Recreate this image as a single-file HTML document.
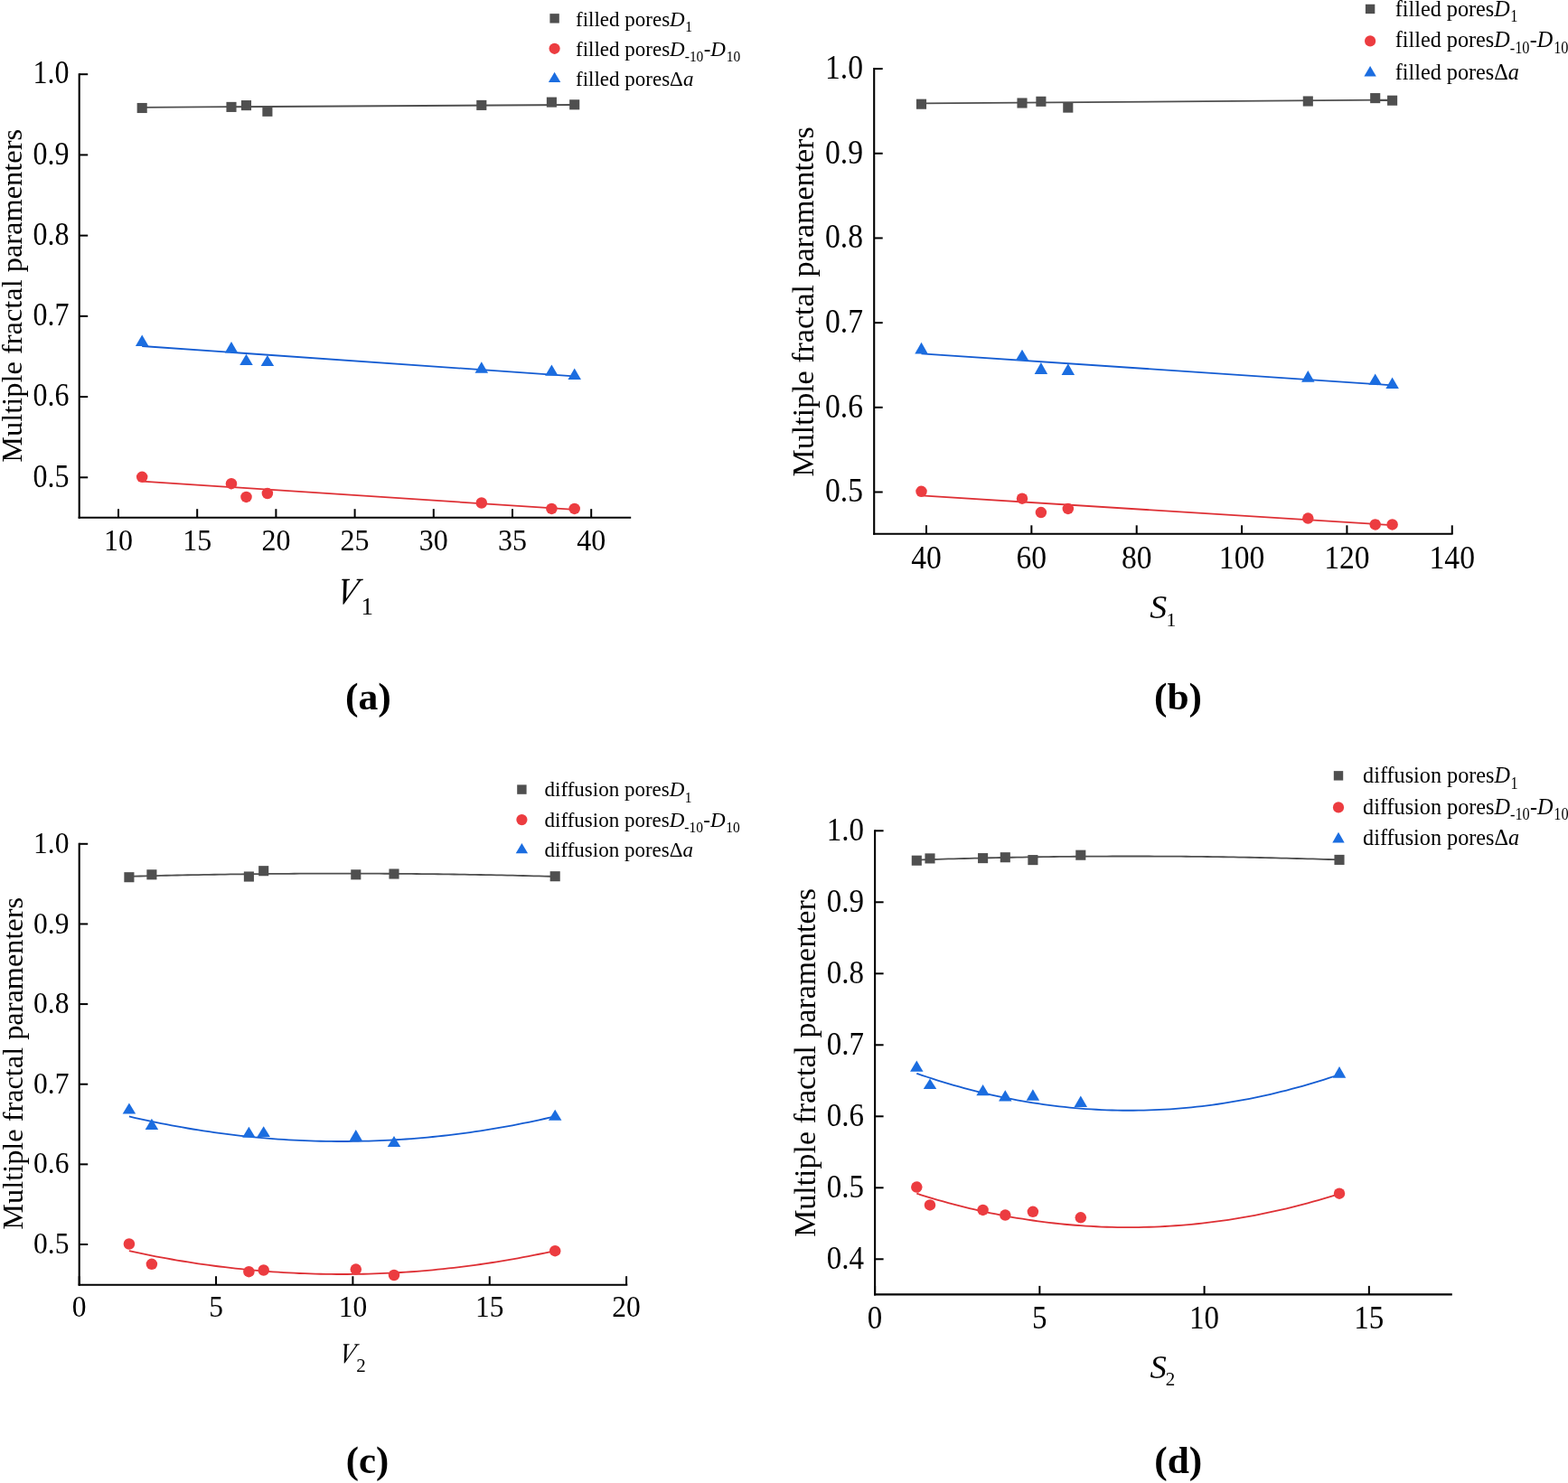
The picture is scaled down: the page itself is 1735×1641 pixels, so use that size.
<!DOCTYPE html>
<html><head><meta charset="utf-8"><title>Multiple fractal parameters</title>
<style>html,body{margin:0;padding:0;background:#fff;} svg{display:block;} text{fill:#000;}</style>
</head><body>
<svg width="1735" height="1641" viewBox="0 0 1735 1641" font-family="&apos;Liberation Serif&apos;, serif">
<rect width="1735" height="1641" fill="#fff"/>
<line x1="87.70" y1="81.20" x2="87.70" y2="573.70" stroke="#000" stroke-width="2.1"/>
<line x1="86.70" y1="572.70" x2="698.20" y2="572.70" stroke="#000" stroke-width="2.1"/>
<line x1="87.70" y1="82.20" x2="97.20" y2="82.20" stroke="#000" stroke-width="2"/>
<text transform="translate(76.50,92.40) scale(1.0,1.1)" font-size="32" text-anchor="end">1.0</text>
<line x1="87.70" y1="171.42" x2="97.20" y2="171.42" stroke="#000" stroke-width="2"/>
<text transform="translate(76.50,181.62) scale(1.0,1.1)" font-size="32" text-anchor="end">0.9</text>
<line x1="87.70" y1="260.64" x2="97.20" y2="260.64" stroke="#000" stroke-width="2"/>
<text transform="translate(76.50,270.84) scale(1.0,1.1)" font-size="32" text-anchor="end">0.8</text>
<line x1="87.70" y1="349.86" x2="97.20" y2="349.86" stroke="#000" stroke-width="2"/>
<text transform="translate(76.50,360.06) scale(1.0,1.1)" font-size="32" text-anchor="end">0.7</text>
<line x1="87.70" y1="439.08" x2="97.20" y2="439.08" stroke="#000" stroke-width="2"/>
<text transform="translate(76.50,449.28) scale(1.0,1.1)" font-size="32" text-anchor="end">0.6</text>
<line x1="87.70" y1="528.30" x2="97.20" y2="528.30" stroke="#000" stroke-width="2"/>
<text transform="translate(76.50,538.50) scale(1.0,1.1)" font-size="32" text-anchor="end">0.5</text>
<line x1="131.00" y1="572.70" x2="131.00" y2="563.20" stroke="#000" stroke-width="2"/>
<text transform="translate(131.00,608.70) scale(1.0,1.08)" font-size="32" text-anchor="middle">10</text>
<line x1="218.20" y1="572.70" x2="218.20" y2="563.20" stroke="#000" stroke-width="2"/>
<text transform="translate(218.20,608.70) scale(1.0,1.08)" font-size="32" text-anchor="middle">15</text>
<line x1="305.40" y1="572.70" x2="305.40" y2="563.20" stroke="#000" stroke-width="2"/>
<text transform="translate(305.40,608.70) scale(1.0,1.08)" font-size="32" text-anchor="middle">20</text>
<line x1="392.60" y1="572.70" x2="392.60" y2="563.20" stroke="#000" stroke-width="2"/>
<text transform="translate(392.60,608.70) scale(1.0,1.08)" font-size="32" text-anchor="middle">25</text>
<line x1="479.80" y1="572.70" x2="479.80" y2="563.20" stroke="#000" stroke-width="2"/>
<text transform="translate(479.80,608.70) scale(1.0,1.08)" font-size="32" text-anchor="middle">30</text>
<line x1="567.00" y1="572.70" x2="567.00" y2="563.20" stroke="#000" stroke-width="2"/>
<text transform="translate(567.00,608.70) scale(1.0,1.08)" font-size="32" text-anchor="middle">35</text>
<line x1="654.20" y1="572.70" x2="654.20" y2="563.20" stroke="#000" stroke-width="2"/>
<text transform="translate(654.20,608.70) scale(1.0,1.08)" font-size="32" text-anchor="middle">40</text>
<text transform="translate(23.50,511.70) rotate(-90)" font-size="32.4">Multiple fractal paramenters</text>
<polyline points="157.20,118.80 635.70,116.00" fill="none" stroke="#4f4f4f" stroke-width="1.8" stroke-linejoin="round"/>
<polyline points="157.20,383.00 635.70,416.30" fill="none" stroke="#145cd2" stroke-width="1.8" stroke-linejoin="round"/>
<polyline points="157.20,532.60 635.70,563.90" fill="none" stroke="#de3035" stroke-width="1.8" stroke-linejoin="round"/>
<rect x="151.65" y="113.95" width="11.1" height="11.1" fill="#4f4f4f"/>
<rect x="250.45" y="112.85" width="11.1" height="11.1" fill="#4f4f4f"/>
<rect x="266.95" y="111.05" width="11.1" height="11.1" fill="#4f4f4f"/>
<rect x="290.35" y="117.75" width="11.1" height="11.1" fill="#4f4f4f"/>
<rect x="527.25" y="110.85" width="11.1" height="11.1" fill="#4f4f4f"/>
<rect x="604.85" y="107.55" width="11.1" height="11.1" fill="#4f4f4f"/>
<rect x="630.15" y="110.25" width="11.1" height="11.1" fill="#4f4f4f"/>
<polygon points="157.20,370.50 149.95,382.90 164.45,382.90" fill="#1b6de0"/>
<polygon points="256.00,378.10 248.75,390.40 263.25,390.40" fill="#1b6de0"/>
<polygon points="272.50,391.80 265.25,404.10 279.75,404.10" fill="#1b6de0"/>
<polygon points="295.90,393.00 288.65,405.10 303.15,405.10" fill="#1b6de0"/>
<polygon points="532.80,400.30 525.55,412.80 540.05,412.80" fill="#1b6de0"/>
<polygon points="610.40,403.50 603.15,415.80 617.65,415.80" fill="#1b6de0"/>
<polygon points="635.70,407.40 628.45,419.90 642.95,419.90" fill="#1b6de0"/>
<circle cx="157.20" cy="527.80" r="6.25" fill="#ec3c40"/>
<circle cx="256.00" cy="535.20" r="6.25" fill="#ec3c40"/>
<circle cx="272.50" cy="549.90" r="6.25" fill="#ec3c40"/>
<circle cx="295.90" cy="546.00" r="6.25" fill="#ec3c40"/>
<circle cx="532.80" cy="556.50" r="6.25" fill="#ec3c40"/>
<circle cx="610.40" cy="562.90" r="6.25" fill="#ec3c40"/>
<circle cx="635.70" cy="562.90" r="6.25" fill="#ec3c40"/>
<rect x="608.40" y="15.15" width="10.4" height="10.4" fill="#4f4f4f"/>
<circle cx="613.60" cy="53.80" r="6.1" fill="#ec3c40"/>
<polygon points="613.60,79.80 606.90,90.90 620.30,90.90" fill="#1b6de0"/>
<text x="637.00" y="28.95" font-size="23">filled pores</text>
<text x="741.11" y="28.95" font-size="23" font-style="italic">D</text>
<text transform="translate(758.22,34.70) scale(1.0,1.1)" font-size="15.5" text-anchor="start">1</text>
<text x="637.00" y="62.30" font-size="23">filled pores</text>
<text x="741.11" y="62.30" font-size="23" font-style="italic">D</text>
<text transform="translate(757.72,68.05) scale(1.0,1.1)" font-size="15.5" text-anchor="start">-10</text>
<text x="778.68" y="62.30" font-size="23">-</text>
<text x="786.34" y="62.30" font-size="23" font-style="italic">D</text>
<text transform="translate(803.75,68.05) scale(1.0,1.1)" font-size="15.5" text-anchor="start">10</text>
<text x="637.00" y="95.40" font-size="23">filled pores</text>
<text x="741.11" y="95.40" font-size="23">Δ</text>
<text x="755.90" y="95.40" font-size="23" font-style="italic">a</text>
<text transform="translate(370.28,667.90) skewX(-13) scale(0.87,1.0)" font-size="41.5" text-anchor="start" font-style="italic">V</text>
<text x="399.50" y="679.50" font-size="27">1</text>
<text x="381.95" y="785.30" font-size="42" font-weight="bold" textLength="51.00" lengthAdjust="spacingAndGlyphs">(a)</text>
<line x1="967.20" y1="75.10" x2="967.20" y2="591.80" stroke="#000" stroke-width="2.1"/>
<line x1="966.20" y1="590.80" x2="1607.60" y2="590.80" stroke="#000" stroke-width="2.1"/>
<line x1="967.20" y1="76.10" x2="976.70" y2="76.10" stroke="#000" stroke-width="2"/>
<text transform="translate(955.00,87.00) scale(1.0,1.1)" font-size="33.6" text-anchor="end">1.0</text>
<line x1="967.20" y1="169.78" x2="976.70" y2="169.78" stroke="#000" stroke-width="2"/>
<text transform="translate(955.00,180.68) scale(1.0,1.1)" font-size="33.6" text-anchor="end">0.9</text>
<line x1="967.20" y1="263.46" x2="976.70" y2="263.46" stroke="#000" stroke-width="2"/>
<text transform="translate(955.00,274.36) scale(1.0,1.1)" font-size="33.6" text-anchor="end">0.8</text>
<line x1="967.20" y1="357.14" x2="976.70" y2="357.14" stroke="#000" stroke-width="2"/>
<text transform="translate(955.00,368.04) scale(1.0,1.1)" font-size="33.6" text-anchor="end">0.7</text>
<line x1="967.20" y1="450.82" x2="976.70" y2="450.82" stroke="#000" stroke-width="2"/>
<text transform="translate(955.00,461.72) scale(1.0,1.1)" font-size="33.6" text-anchor="end">0.6</text>
<line x1="967.20" y1="544.50" x2="976.70" y2="544.50" stroke="#000" stroke-width="2"/>
<text transform="translate(955.00,555.40) scale(1.0,1.1)" font-size="33.6" text-anchor="end">0.5</text>
<line x1="1025.00" y1="590.80" x2="1025.00" y2="581.30" stroke="#000" stroke-width="2"/>
<text transform="translate(1025.00,628.50) scale(1.0,1.08)" font-size="33.6" text-anchor="middle">40</text>
<line x1="1141.35" y1="590.80" x2="1141.35" y2="581.30" stroke="#000" stroke-width="2"/>
<text transform="translate(1141.35,628.50) scale(1.0,1.08)" font-size="33.6" text-anchor="middle">60</text>
<line x1="1257.70" y1="590.80" x2="1257.70" y2="581.30" stroke="#000" stroke-width="2"/>
<text transform="translate(1257.70,628.50) scale(1.0,1.08)" font-size="33.6" text-anchor="middle">80</text>
<line x1="1374.05" y1="590.80" x2="1374.05" y2="581.30" stroke="#000" stroke-width="2"/>
<text transform="translate(1374.05,628.50) scale(1.0,1.08)" font-size="33.6" text-anchor="middle">100</text>
<line x1="1490.40" y1="590.80" x2="1490.40" y2="581.30" stroke="#000" stroke-width="2"/>
<text transform="translate(1490.40,628.50) scale(1.0,1.08)" font-size="33.6" text-anchor="middle">120</text>
<line x1="1606.75" y1="590.80" x2="1606.75" y2="581.30" stroke="#000" stroke-width="2"/>
<text transform="translate(1606.75,628.50) scale(1.0,1.08)" font-size="33.6" text-anchor="middle">140</text>
<text transform="translate(900.20,527.40) rotate(-90)" font-size="34.0">Multiple fractal paramenters</text>
<polyline points="1019.50,114.40 1540.60,110.60" fill="none" stroke="#4f4f4f" stroke-width="1.8" stroke-linejoin="round"/>
<polyline points="1019.50,391.30 1540.60,426.30" fill="none" stroke="#145cd2" stroke-width="1.8" stroke-linejoin="round"/>
<polyline points="1019.50,548.40 1540.60,581.10" fill="none" stroke="#de3035" stroke-width="1.8" stroke-linejoin="round"/>
<rect x="1013.95" y="109.65" width="11.1" height="11.1" fill="#4f4f4f"/>
<rect x="1125.45" y="108.45" width="11.1" height="11.1" fill="#4f4f4f"/>
<rect x="1146.35" y="106.75" width="11.1" height="11.1" fill="#4f4f4f"/>
<rect x="1176.25" y="113.55" width="11.1" height="11.1" fill="#4f4f4f"/>
<rect x="1441.75" y="106.45" width="11.1" height="11.1" fill="#4f4f4f"/>
<rect x="1516.15" y="103.05" width="11.1" height="11.1" fill="#4f4f4f"/>
<rect x="1535.05" y="105.65" width="11.1" height="11.1" fill="#4f4f4f"/>
<polygon points="1019.50,378.80 1012.25,391.60 1026.75,391.60" fill="#1b6de0"/>
<polygon points="1131.00,386.70 1123.75,399.10 1138.25,399.10" fill="#1b6de0"/>
<polygon points="1151.90,401.00 1144.65,414.10 1159.15,414.10" fill="#1b6de0"/>
<polygon points="1181.80,402.20 1174.55,415.00 1189.05,415.00" fill="#1b6de0"/>
<polygon points="1447.30,410.10 1440.05,422.80 1454.55,422.80" fill="#1b6de0"/>
<polygon points="1521.70,413.50 1514.45,425.70 1528.95,425.70" fill="#1b6de0"/>
<polygon points="1540.60,417.50 1533.35,430.10 1547.85,430.10" fill="#1b6de0"/>
<circle cx="1019.50" cy="543.80" r="6.25" fill="#ec3c40"/>
<circle cx="1131.00" cy="551.70" r="6.25" fill="#ec3c40"/>
<circle cx="1151.90" cy="567.10" r="6.25" fill="#ec3c40"/>
<circle cx="1181.80" cy="562.90" r="6.25" fill="#ec3c40"/>
<circle cx="1447.30" cy="573.60" r="6.25" fill="#ec3c40"/>
<circle cx="1521.70" cy="580.40" r="6.25" fill="#ec3c40"/>
<circle cx="1540.60" cy="580.40" r="6.25" fill="#ec3c40"/>
<rect x="1510.90" y="4.75" width="10.4" height="10.4" fill="#4f4f4f"/>
<circle cx="1516.10" cy="45.40" r="6.1" fill="#ec3c40"/>
<polygon points="1516.10,73.10 1509.40,84.40 1522.80,84.40" fill="#1b6de0"/>
<text x="1543.75" y="17.70" font-size="24.2">filled pores</text>
<text x="1653.29" y="17.70" font-size="24.2" font-style="italic">D</text>
<text transform="translate(1671.26,24.33) scale(1.0,1.1)" font-size="16.31" text-anchor="start">1</text>
<text x="1543.75" y="52.30" font-size="24.2">filled pores</text>
<text x="1653.29" y="52.30" font-size="24.2" font-style="italic">D</text>
<text transform="translate(1670.76,58.93) scale(1.0,1.1)" font-size="16.31" text-anchor="start">-10</text>
<text x="1692.81" y="52.30" font-size="24.2">-</text>
<text x="1700.86" y="52.30" font-size="24.2" font-style="italic">D</text>
<text transform="translate(1719.14,58.93) scale(1.0,1.1)" font-size="16.31" text-anchor="start">10</text>
<text x="1543.75" y="87.60" font-size="24.2">filled pores</text>
<text x="1653.29" y="87.60" font-size="24.2">Δ</text>
<text x="1668.85" y="87.60" font-size="24.2" font-style="italic">a</text>
<text transform="translate(1272.30,684.10) scale(1.08,1.0)" font-size="35" text-anchor="start" font-style="italic">S</text>
<text x="1290.50" y="692.70" font-size="21.7">1</text>
<text x="1277.00" y="785.20" font-size="42" font-weight="bold" textLength="53.00" lengthAdjust="spacingAndGlyphs">(b)</text>
<line x1="87.70" y1="932.80" x2="87.70" y2="1422.70" stroke="#000" stroke-width="2.1"/>
<line x1="86.70" y1="1421.70" x2="694.30" y2="1421.70" stroke="#000" stroke-width="2.1"/>
<line x1="87.70" y1="933.80" x2="97.20" y2="933.80" stroke="#000" stroke-width="2"/>
<text transform="translate(76.40,943.90) scale(1.0,1.1)" font-size="31.5" text-anchor="end">1.0</text>
<line x1="87.70" y1="1022.44" x2="97.20" y2="1022.44" stroke="#000" stroke-width="2"/>
<text transform="translate(76.40,1032.54) scale(1.0,1.1)" font-size="31.5" text-anchor="end">0.9</text>
<line x1="87.70" y1="1111.08" x2="97.20" y2="1111.08" stroke="#000" stroke-width="2"/>
<text transform="translate(76.40,1121.18) scale(1.0,1.1)" font-size="31.5" text-anchor="end">0.8</text>
<line x1="87.70" y1="1199.72" x2="97.20" y2="1199.72" stroke="#000" stroke-width="2"/>
<text transform="translate(76.40,1209.82) scale(1.0,1.1)" font-size="31.5" text-anchor="end">0.7</text>
<line x1="87.70" y1="1288.36" x2="97.20" y2="1288.36" stroke="#000" stroke-width="2"/>
<text transform="translate(76.40,1298.46) scale(1.0,1.1)" font-size="31.5" text-anchor="end">0.6</text>
<line x1="87.70" y1="1377.00" x2="97.20" y2="1377.00" stroke="#000" stroke-width="2"/>
<text transform="translate(76.40,1387.10) scale(1.0,1.1)" font-size="31.5" text-anchor="end">0.5</text>
<line x1="87.70" y1="1421.70" x2="87.70" y2="1412.20" stroke="#000" stroke-width="2"/>
<text transform="translate(87.70,1456.90) scale(1.0,1.08)" font-size="31.5" text-anchor="middle">0</text>
<line x1="239.05" y1="1421.70" x2="239.05" y2="1412.20" stroke="#000" stroke-width="2"/>
<text transform="translate(239.05,1456.90) scale(1.0,1.08)" font-size="31.5" text-anchor="middle">5</text>
<line x1="390.40" y1="1421.70" x2="390.40" y2="1412.20" stroke="#000" stroke-width="2"/>
<text transform="translate(390.40,1456.90) scale(1.0,1.08)" font-size="31.5" text-anchor="middle">10</text>
<line x1="541.75" y1="1421.70" x2="541.75" y2="1412.20" stroke="#000" stroke-width="2"/>
<text transform="translate(541.75,1456.90) scale(1.0,1.08)" font-size="31.5" text-anchor="middle">15</text>
<line x1="693.10" y1="1421.70" x2="693.10" y2="1412.20" stroke="#000" stroke-width="2"/>
<text transform="translate(693.10,1456.90) scale(1.0,1.08)" font-size="31.5" text-anchor="middle">20</text>
<text transform="translate(24.90,1360.65) rotate(-90)" font-size="32.3">Multiple fractal paramenters</text>
<polyline points="142.90,969.80 148.79,969.64 154.68,969.48 160.57,969.33 166.47,969.19 172.36,969.04 178.25,968.90 184.14,968.77 190.03,968.64 195.92,968.51 201.81,968.39 207.70,968.27 213.60,968.15 219.49,968.04 225.38,967.93 231.27,967.83 237.16,967.73 243.05,967.64 248.94,967.55 254.83,967.46 260.73,967.38 266.62,967.30 272.51,967.23 278.40,967.16 284.29,967.09 290.18,967.03 296.07,966.97 301.96,966.92 307.86,966.87 313.75,966.82 319.64,966.78 325.53,966.74 331.42,966.71 337.31,966.68 343.20,966.66 349.09,966.63 354.99,966.62 360.88,966.60 366.77,966.60 372.66,966.59 378.55,966.59 384.44,966.59 390.33,966.60 396.22,966.61 402.12,966.63 408.01,966.65 413.90,966.67 419.79,966.70 425.68,966.73 431.57,966.77 437.46,966.81 443.35,966.85 449.25,966.90 455.14,966.95 461.03,967.01 466.92,967.07 472.81,967.13 478.70,967.20 484.59,967.27 490.48,967.35 496.38,967.43 502.27,967.51 508.16,967.60 514.05,967.70 519.94,967.79 525.83,967.89 531.72,968.00 537.61,968.11 543.51,968.22 549.40,968.34 555.29,968.46 561.18,968.59 567.07,968.72 572.96,968.85 578.85,968.99 584.74,969.13 590.63,969.28 596.53,969.43 602.42,969.58 608.31,969.74 614.20,969.90" fill="none" stroke="#4f4f4f" stroke-width="1.8" stroke-linejoin="round"/>
<polyline points="142.90,1235.40 148.79,1236.76 154.68,1238.09 160.57,1239.39 166.47,1240.65 172.36,1241.87 178.25,1243.07 184.14,1244.22 190.03,1245.34 195.92,1246.43 201.81,1247.48 207.70,1248.50 213.60,1249.49 219.49,1250.44 225.38,1251.35 231.27,1252.23 237.16,1253.08 243.05,1253.89 248.94,1254.66 254.83,1255.41 260.73,1256.11 266.62,1256.79 272.51,1257.42 278.40,1258.03 284.29,1258.60 290.18,1259.13 296.07,1259.63 301.96,1260.10 307.86,1260.53 313.75,1260.92 319.64,1261.28 325.53,1261.61 331.42,1261.90 337.31,1262.16 343.20,1262.39 349.09,1262.57 354.99,1262.73 360.88,1262.85 366.77,1262.93 372.66,1262.98 378.55,1263.00 384.44,1262.98 390.33,1262.93 396.22,1262.84 402.12,1262.72 408.01,1262.56 413.90,1262.37 419.79,1262.14 425.68,1261.88 431.57,1261.59 437.46,1261.26 443.35,1260.90 449.25,1260.50 455.14,1260.06 461.03,1259.60 466.92,1259.09 472.81,1258.56 478.70,1257.98 484.59,1257.38 490.48,1256.74 496.38,1256.06 502.27,1255.35 508.16,1254.61 514.05,1253.83 519.94,1253.02 525.83,1252.17 531.72,1251.29 537.61,1250.37 543.51,1249.42 549.40,1248.43 555.29,1247.41 561.18,1246.35 567.07,1245.26 572.96,1244.14 578.85,1242.98 584.74,1241.79 590.63,1240.56 596.53,1239.30 602.42,1238.00 608.31,1236.67 614.20,1235.30" fill="none" stroke="#145cd2" stroke-width="1.8" stroke-linejoin="round"/>
<polyline points="142.90,1384.20 148.79,1385.48 154.68,1386.72 160.57,1387.93 166.47,1389.11 172.36,1390.26 178.25,1391.37 184.14,1392.45 190.03,1393.50 195.92,1394.52 201.81,1395.51 207.70,1396.46 213.60,1397.38 219.49,1398.27 225.38,1399.12 231.27,1399.95 237.16,1400.74 243.05,1401.49 248.94,1402.22 254.83,1402.91 260.73,1403.57 266.62,1404.20 272.51,1404.80 278.40,1405.36 284.29,1405.90 290.18,1406.40 296.07,1406.86 301.96,1407.30 307.86,1407.70 313.75,1408.07 319.64,1408.41 325.53,1408.71 331.42,1408.98 337.31,1409.22 343.20,1409.43 349.09,1409.61 354.99,1409.75 360.88,1409.86 366.77,1409.94 372.66,1409.99 378.55,1410.00 384.44,1409.98 390.33,1409.93 396.22,1409.85 402.12,1409.73 408.01,1409.58 413.90,1409.40 419.79,1409.19 425.68,1408.94 431.57,1408.67 437.46,1408.36 443.35,1408.01 449.25,1407.64 455.14,1407.23 461.03,1406.79 466.92,1406.32 472.81,1405.82 478.70,1405.28 484.59,1404.71 490.48,1404.11 496.38,1403.47 502.27,1402.81 508.16,1402.11 514.05,1401.38 519.94,1400.62 525.83,1399.82 531.72,1398.99 537.61,1398.13 543.51,1397.24 549.40,1396.31 555.29,1395.36 561.18,1394.37 567.07,1393.34 572.96,1392.29 578.85,1391.20 584.74,1390.08 590.63,1388.93 596.53,1387.75 602.42,1386.53 608.31,1385.28 614.20,1384.00" fill="none" stroke="#de3035" stroke-width="1.8" stroke-linejoin="round"/>
<rect x="137.35" y="965.15" width="11.1" height="11.1" fill="#4f4f4f"/>
<rect x="162.35" y="962.25" width="11.1" height="11.1" fill="#4f4f4f"/>
<rect x="269.85" y="964.45" width="11.1" height="11.1" fill="#4f4f4f"/>
<rect x="286.15" y="958.15" width="11.1" height="11.1" fill="#4f4f4f"/>
<rect x="388.25" y="962.25" width="11.1" height="11.1" fill="#4f4f4f"/>
<rect x="430.45" y="961.45" width="11.1" height="11.1" fill="#4f4f4f"/>
<rect x="608.65" y="964.15" width="11.1" height="11.1" fill="#4f4f4f"/>
<polygon points="142.90,1220.60 135.65,1232.50 150.15,1232.50" fill="#1b6de0"/>
<polygon points="167.90,1237.80 160.65,1250.10 175.15,1250.10" fill="#1b6de0"/>
<polygon points="275.40,1246.80 268.15,1258.70 282.65,1258.70" fill="#1b6de0"/>
<polygon points="291.70,1246.30 284.45,1258.10 298.95,1258.10" fill="#1b6de0"/>
<polygon points="393.80,1249.90 386.55,1262.60 401.05,1262.60" fill="#1b6de0"/>
<polygon points="436.00,1256.90 428.75,1269.00 443.25,1269.00" fill="#1b6de0"/>
<polygon points="614.20,1227.70 606.95,1239.80 621.45,1239.80" fill="#1b6de0"/>
<circle cx="142.90" cy="1376.50" r="6.25" fill="#ec3c40"/>
<circle cx="167.90" cy="1398.80" r="6.25" fill="#ec3c40"/>
<circle cx="275.40" cy="1407.20" r="6.25" fill="#ec3c40"/>
<circle cx="291.70" cy="1405.50" r="6.25" fill="#ec3c40"/>
<circle cx="393.80" cy="1404.60" r="6.25" fill="#ec3c40"/>
<circle cx="436.00" cy="1411.00" r="6.25" fill="#ec3c40"/>
<circle cx="614.20" cy="1384.20" r="6.25" fill="#ec3c40"/>
<rect x="572.20" y="868.40" width="10.4" height="10.4" fill="#4f4f4f"/>
<circle cx="577.40" cy="907.10" r="6.1" fill="#ec3c40"/>
<polygon points="577.40,933.10 570.70,944.20 584.10,944.20" fill="#1b6de0"/>
<text x="602.50" y="881.20" font-size="23.0">diffusion pores</text>
<text x="740.70" y="881.20" font-size="23.0" font-style="italic">D</text>
<text transform="translate(757.81,887.50) scale(1.0,1.1)" font-size="15.5" text-anchor="start">1</text>
<text x="602.50" y="914.70" font-size="23.0">diffusion pores</text>
<text x="740.70" y="914.70" font-size="23.0" font-style="italic">D</text>
<text transform="translate(757.31,921.00) scale(1.0,1.1)" font-size="15.5" text-anchor="start">-10</text>
<text x="778.27" y="914.70" font-size="23.0">-</text>
<text x="785.93" y="914.70" font-size="23.0" font-style="italic">D</text>
<text transform="translate(803.34,921.00) scale(1.0,1.1)" font-size="15.5" text-anchor="start">10</text>
<text x="602.50" y="948.10" font-size="23.0">diffusion pores</text>
<text x="740.70" y="948.10" font-size="23.0">Δ</text>
<text x="755.49" y="948.10" font-size="23.0" font-style="italic">a</text>
<text transform="translate(373.79,1508.30) skewX(-13) scale(0.865,1.0)" font-size="31.6" text-anchor="start" font-style="italic">V</text>
<text x="394.30" y="1517.80" font-size="21">2</text>
<text x="382.85" y="1630.20" font-size="42" font-weight="bold" textLength="47.50" lengthAdjust="spacingAndGlyphs">(c)</text>
<line x1="968.10" y1="918.30" x2="968.10" y2="1433.40" stroke="#000" stroke-width="2.1"/>
<line x1="967.10" y1="1432.40" x2="1606.80" y2="1432.40" stroke="#000" stroke-width="2.1"/>
<line x1="968.10" y1="919.30" x2="977.60" y2="919.30" stroke="#000" stroke-width="2"/>
<text transform="translate(956.10,929.90) scale(1.0,1.1)" font-size="33" text-anchor="end">1.0</text>
<line x1="968.10" y1="998.30" x2="977.60" y2="998.30" stroke="#000" stroke-width="2"/>
<text transform="translate(956.10,1008.90) scale(1.0,1.1)" font-size="33" text-anchor="end">0.9</text>
<line x1="968.10" y1="1077.30" x2="977.60" y2="1077.30" stroke="#000" stroke-width="2"/>
<text transform="translate(956.10,1087.90) scale(1.0,1.1)" font-size="33" text-anchor="end">0.8</text>
<line x1="968.10" y1="1156.30" x2="977.60" y2="1156.30" stroke="#000" stroke-width="2"/>
<text transform="translate(956.10,1166.90) scale(1.0,1.1)" font-size="33" text-anchor="end">0.7</text>
<line x1="968.10" y1="1235.30" x2="977.60" y2="1235.30" stroke="#000" stroke-width="2"/>
<text transform="translate(956.10,1245.90) scale(1.0,1.1)" font-size="33" text-anchor="end">0.6</text>
<line x1="968.10" y1="1314.30" x2="977.60" y2="1314.30" stroke="#000" stroke-width="2"/>
<text transform="translate(956.10,1324.90) scale(1.0,1.1)" font-size="33" text-anchor="end">0.5</text>
<line x1="968.10" y1="1393.30" x2="977.60" y2="1393.30" stroke="#000" stroke-width="2"/>
<text transform="translate(956.10,1403.90) scale(1.0,1.1)" font-size="33" text-anchor="end">0.4</text>
<line x1="968.10" y1="1432.40" x2="968.10" y2="1422.90" stroke="#000" stroke-width="2"/>
<text transform="translate(968.10,1469.90) scale(1.0,1.08)" font-size="33" text-anchor="middle">0</text>
<line x1="1150.35" y1="1432.40" x2="1150.35" y2="1422.90" stroke="#000" stroke-width="2"/>
<text transform="translate(1150.35,1469.90) scale(1.0,1.08)" font-size="33" text-anchor="middle">5</text>
<line x1="1332.60" y1="1432.40" x2="1332.60" y2="1422.90" stroke="#000" stroke-width="2"/>
<text transform="translate(1332.60,1469.90) scale(1.0,1.08)" font-size="33" text-anchor="middle">10</text>
<line x1="1514.85" y1="1432.40" x2="1514.85" y2="1422.90" stroke="#000" stroke-width="2"/>
<text transform="translate(1514.85,1469.90) scale(1.0,1.08)" font-size="33" text-anchor="middle">15</text>
<text transform="translate(901.50,1368.80) rotate(-90)" font-size="33.9">Multiple fractal paramenters</text>
<polyline points="1014.30,951.60 1020.15,951.40 1025.99,951.20 1031.84,951.01 1037.68,950.83 1043.53,950.65 1049.38,950.47 1055.22,950.30 1061.07,950.14 1066.92,949.98 1072.76,949.82 1078.61,949.67 1084.45,949.53 1090.30,949.39 1096.15,949.25 1101.99,949.12 1107.84,949.00 1113.69,948.88 1119.53,948.76 1125.38,948.65 1131.22,948.55 1137.07,948.45 1142.92,948.35 1148.76,948.26 1154.61,948.18 1160.46,948.10 1166.30,948.02 1172.15,947.95 1177.99,947.89 1183.84,947.83 1189.69,947.77 1195.53,947.72 1201.38,947.67 1207.23,947.63 1213.07,947.60 1218.92,947.57 1224.76,947.54 1230.61,947.52 1236.46,947.51 1242.30,947.50 1248.15,947.49 1254.00,947.49 1259.84,947.50 1265.69,947.51 1271.53,947.52 1277.38,947.54 1283.23,947.57 1289.07,947.60 1294.92,947.63 1300.77,947.68 1306.61,947.72 1312.46,947.77 1318.30,947.83 1324.15,947.89 1330.00,947.95 1335.84,948.02 1341.69,948.10 1347.54,948.18 1353.38,948.26 1359.23,948.35 1365.08,948.45 1370.92,948.55 1376.77,948.65 1382.61,948.76 1388.46,948.88 1394.31,949.00 1400.15,949.12 1406.00,949.25 1411.85,949.39 1417.69,949.53 1423.54,949.67 1429.38,949.82 1435.23,949.98 1441.08,950.14 1446.92,950.30 1452.77,950.47 1458.62,950.65 1464.46,950.83 1470.31,951.01 1476.15,951.20 1482.00,951.40" fill="none" stroke="#4f4f4f" stroke-width="1.8" stroke-linejoin="round"/>
<polyline points="1014.30,1187.80 1020.15,1189.81 1025.99,1191.77 1031.84,1193.67 1037.68,1195.53 1043.53,1197.34 1049.38,1199.09 1055.22,1200.80 1061.07,1202.45 1066.92,1204.06 1072.76,1205.61 1078.61,1207.12 1084.45,1208.57 1090.30,1209.97 1096.15,1211.33 1101.99,1212.63 1107.84,1213.88 1113.69,1215.08 1119.53,1216.23 1125.38,1217.33 1131.22,1218.38 1137.07,1219.38 1142.92,1220.33 1148.76,1221.23 1154.61,1222.07 1160.46,1222.87 1166.30,1223.62 1172.15,1224.31 1177.99,1224.96 1183.84,1225.56 1189.69,1226.10 1195.53,1226.59 1201.38,1227.04 1207.23,1227.43 1213.07,1227.77 1218.92,1228.07 1224.76,1228.31 1230.61,1228.50 1236.46,1228.64 1242.30,1228.73 1248.15,1228.77 1254.00,1228.76 1259.84,1228.70 1265.69,1228.59 1271.53,1228.43 1277.38,1228.22 1283.23,1227.95 1289.07,1227.64 1294.92,1227.28 1300.77,1226.86 1306.61,1226.40 1312.46,1225.89 1318.30,1225.32 1324.15,1224.70 1330.00,1224.04 1335.84,1223.32 1341.69,1222.55 1347.54,1221.74 1353.38,1220.87 1359.23,1219.95 1365.08,1218.98 1370.92,1217.96 1376.77,1216.89 1382.61,1215.77 1388.46,1214.60 1394.31,1213.38 1400.15,1212.11 1406.00,1210.78 1411.85,1209.41 1417.69,1207.99 1423.54,1206.51 1429.38,1204.99 1435.23,1203.41 1441.08,1201.79 1446.92,1200.11 1452.77,1198.39 1458.62,1196.61 1464.46,1194.78 1470.31,1192.91 1476.15,1190.98 1482.00,1189.00" fill="none" stroke="#145cd2" stroke-width="1.8" stroke-linejoin="round"/>
<polyline points="1014.30,1320.70 1020.15,1322.54 1025.99,1324.34 1031.84,1326.09 1037.68,1327.80 1043.53,1329.46 1049.38,1331.07 1055.22,1332.63 1061.07,1334.15 1066.92,1335.62 1072.76,1337.05 1078.61,1338.42 1084.45,1339.76 1090.30,1341.04 1096.15,1342.28 1101.99,1343.47 1107.84,1344.62 1113.69,1345.72 1119.53,1346.77 1125.38,1347.77 1131.22,1348.73 1137.07,1349.65 1142.92,1350.51 1148.76,1351.33 1154.61,1352.10 1160.46,1352.83 1166.30,1353.51 1172.15,1354.14 1177.99,1354.73 1183.84,1355.27 1189.69,1355.76 1195.53,1356.21 1201.38,1356.61 1207.23,1356.96 1213.07,1357.27 1218.92,1357.53 1224.76,1357.74 1230.61,1357.91 1236.46,1358.03 1242.30,1358.10 1248.15,1358.13 1254.00,1358.11 1259.84,1358.04 1265.69,1357.93 1271.53,1357.77 1277.38,1357.56 1283.23,1357.31 1289.07,1357.01 1294.92,1356.67 1300.77,1356.27 1306.61,1355.84 1312.46,1355.35 1318.30,1354.82 1324.15,1354.24 1330.00,1353.61 1335.84,1352.94 1341.69,1352.22 1347.54,1351.46 1353.38,1350.65 1359.23,1349.79 1365.08,1348.88 1370.92,1347.93 1376.77,1346.93 1382.61,1345.89 1388.46,1344.80 1394.31,1343.66 1400.15,1342.48 1406.00,1341.24 1411.85,1339.97 1417.69,1338.64 1423.54,1337.27 1429.38,1335.85 1435.23,1334.39 1441.08,1332.88 1446.92,1331.32 1452.77,1329.72 1458.62,1328.07 1464.46,1326.37 1470.31,1324.63 1476.15,1322.84 1482.00,1321.00" fill="none" stroke="#de3035" stroke-width="1.8" stroke-linejoin="round"/>
<rect x="1008.75" y="946.65" width="11.1" height="11.1" fill="#4f4f4f"/>
<rect x="1023.45" y="944.35" width="11.1" height="11.1" fill="#4f4f4f"/>
<rect x="1082.05" y="944.05" width="11.1" height="11.1" fill="#4f4f4f"/>
<rect x="1106.75" y="943.15" width="11.1" height="11.1" fill="#4f4f4f"/>
<rect x="1137.35" y="946.05" width="11.1" height="11.1" fill="#4f4f4f"/>
<rect x="1190.25" y="940.65" width="11.1" height="11.1" fill="#4f4f4f"/>
<rect x="1476.45" y="945.85" width="11.1" height="11.1" fill="#4f4f4f"/>
<polygon points="1014.30,1173.50 1007.05,1185.80 1021.55,1185.80" fill="#1b6de0"/>
<polygon points="1029.00,1193.50 1021.75,1204.90 1036.25,1204.90" fill="#1b6de0"/>
<polygon points="1087.60,1199.90 1080.35,1212.20 1094.85,1212.20" fill="#1b6de0"/>
<polygon points="1112.30,1206.20 1105.05,1218.60 1119.55,1218.60" fill="#1b6de0"/>
<polygon points="1142.90,1205.20 1135.65,1217.70 1150.15,1217.70" fill="#1b6de0"/>
<polygon points="1195.80,1212.50 1188.55,1224.90 1203.05,1224.90" fill="#1b6de0"/>
<polygon points="1482.00,1180.10 1474.75,1192.80 1489.25,1192.80" fill="#1b6de0"/>
<circle cx="1014.30" cy="1313.60" r="6.25" fill="#ec3c40"/>
<circle cx="1029.00" cy="1333.40" r="6.25" fill="#ec3c40"/>
<circle cx="1087.60" cy="1338.90" r="6.25" fill="#ec3c40"/>
<circle cx="1112.30" cy="1344.60" r="6.25" fill="#ec3c40"/>
<circle cx="1142.90" cy="1340.80" r="6.25" fill="#ec3c40"/>
<circle cx="1195.80" cy="1347.30" r="6.25" fill="#ec3c40"/>
<circle cx="1482.00" cy="1320.70" r="6.25" fill="#ec3c40"/>
<rect x="1475.80" y="853.15" width="10.4" height="10.4" fill="#4f4f4f"/>
<circle cx="1481.00" cy="893.40" r="6.1" fill="#ec3c40"/>
<polygon points="1481.00,920.80 1474.30,932.60 1487.70,932.60" fill="#1b6de0"/>
<text x="1508.10" y="866.00" font-size="24.2">diffusion pores</text>
<text x="1653.51" y="866.00" font-size="24.2" font-style="italic">D</text>
<text transform="translate(1671.49,872.63) scale(1.0,1.1)" font-size="16.31" text-anchor="start">1</text>
<text x="1508.10" y="900.60" font-size="24.2">diffusion pores</text>
<text x="1653.51" y="900.60" font-size="24.2" font-style="italic">D</text>
<text transform="translate(1670.99,907.23) scale(1.0,1.1)" font-size="16.31" text-anchor="start">-10</text>
<text x="1693.03" y="900.60" font-size="24.2">-</text>
<text x="1701.09" y="900.60" font-size="24.2" font-style="italic">D</text>
<text transform="translate(1719.37,907.23) scale(1.0,1.1)" font-size="16.31" text-anchor="start">10</text>
<text x="1508.10" y="935.30" font-size="24.2">diffusion pores</text>
<text x="1653.51" y="935.30" font-size="24.2">Δ</text>
<text x="1669.07" y="935.30" font-size="24.2" font-style="italic">a</text>
<text transform="translate(1272.40,1525.00) scale(1.05,1.0)" font-size="34.8" text-anchor="start" font-style="italic">S</text>
<text x="1289.80" y="1533.10" font-size="21">2</text>
<text x="1277.25" y="1630.00" font-size="42" font-weight="bold" textLength="53.00" lengthAdjust="spacingAndGlyphs">(d)</text>
</svg>
</body></html>
